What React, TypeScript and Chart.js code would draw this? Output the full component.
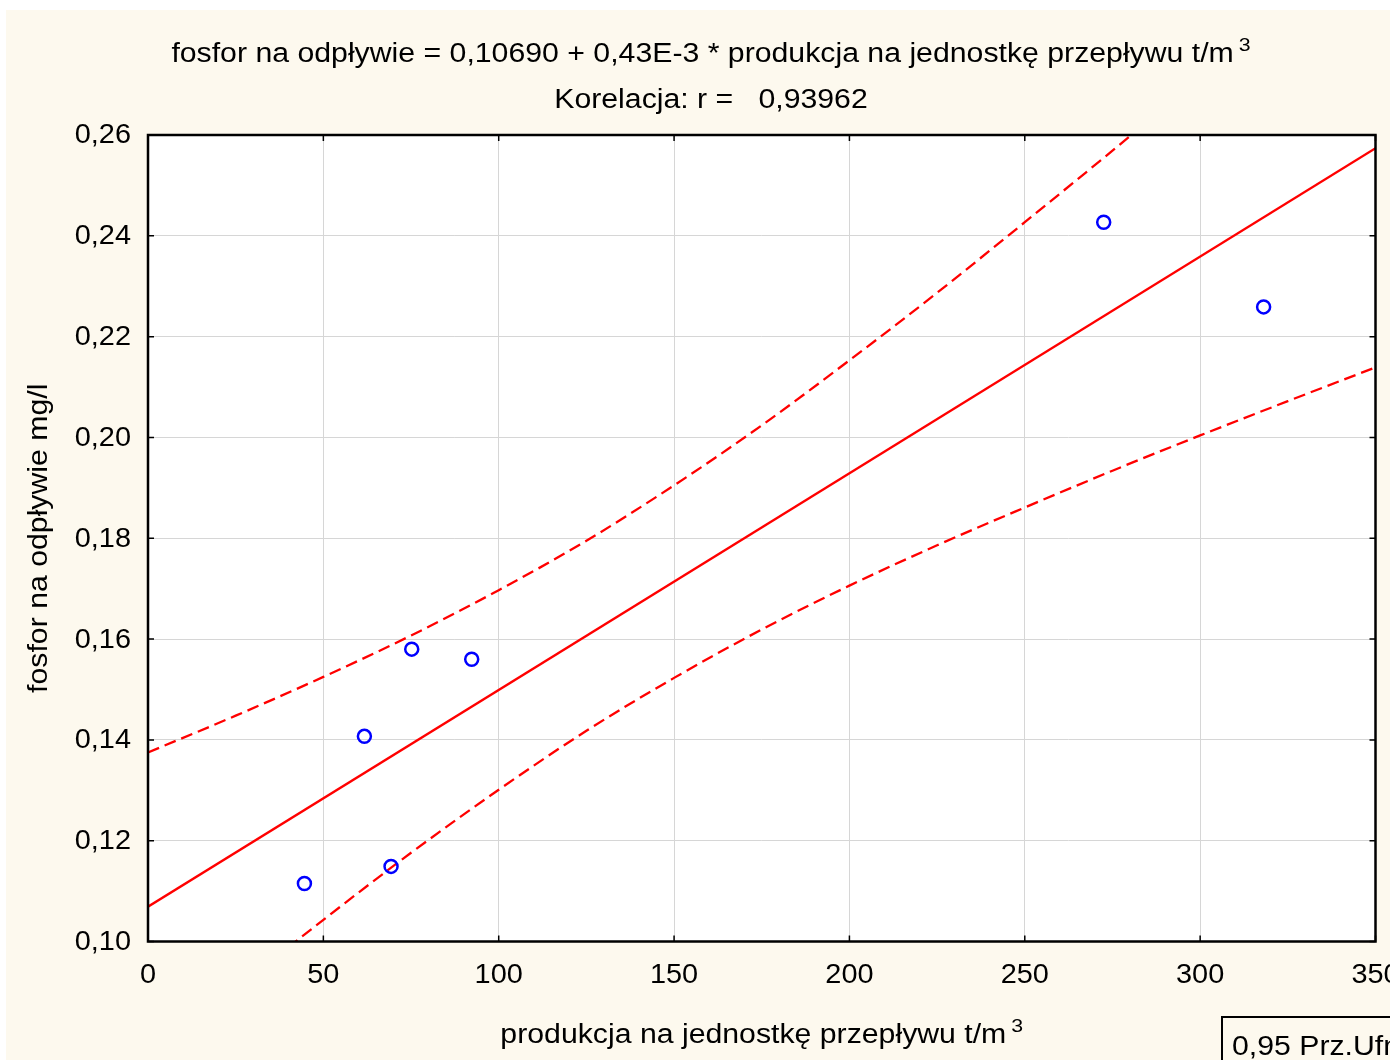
import React, { useEffect, useRef } from "react";
import { Chart, registerables } from "chart.js";

Chart.register(...registerables);

// ---- data ----
const pointX = [44.6, 61.7, 69.3, 75.2, 92.3, 272.5, 318.1];
const pointY = [0.1115, 0.1407, 0.1149, 0.158, 0.156, 0.2427, 0.2259];

const fitX = [0, 350];
const fitY = [0.1069, 0.2574];

const bandX = [0, 25, 50, 75, 100, 125, 150, 175, 200, 225, 250, 275, 300, 325, 350];
const upperBand = [0.1375, 0.1448, 0.1525, 0.1607, 0.1697, 0.1795, 0.1905, 0.2024, 0.2153, 0.2287, 0.2427, 0.2569, 0.2714, 0.2861, 0.3009];
const lowerBand = [0.0763, 0.0905, 0.1043, 0.1176, 0.1301, 0.1418, 0.1523, 0.1619, 0.1706, 0.1786, 0.1861, 0.1934, 0.2004, 0.2072, 0.2139];

const xTicks = [0, 50, 100, 150, 200, 250, 300, 350];
const yTicks = [0.1, 0.12, 0.14, 0.16, 0.18, 0.2, 0.22, 0.24, 0.26];
const xTickLabels = ["0", "50", "100", "150", "200", "250", "300", "350"];
const yTickLabels = ["0,10", "0,12", "0,14", "0,16", "0,18", "0,20", "0,22", "0,24", "0,26"];

const titleLine1 = "fosfor na odpływie = 0,10690 + 0,43E-3 * produkcja na jednostkę przepływu t/m";
const titleLine2 = "Korelacja: r =   0,93962";
const xTitle = "produkcja na jednostkę przepływu t/m";
const yTitle = "fosfor na odpływie mg/l";
const superscript = "3";
const legendText = "0,95 Prz.Ufn.";

// ---- layout / style ----
const CANVAS_W = 1410;
const CANVAS_H = 1060;
const PLOT_LEFT = 142;
const PLOT_RIGHT = 1369.5;
const PLOT_TOP = 125;
const PLOT_BOTTOM = 931.5;
const CREAM = "rgb(253,249,238)";
const FONT = '"Liberation Sans", Arial, sans-serif';

function drawText(
  ctx: CanvasRenderingContext2D,
  text: string,
  x: number,
  y: number,
  size: number,
  align: "left" | "center" | "right",
  sx: number,
  sup?: string
) {
  ctx.save();
  ctx.font = `${size}px ${FONT}`;
  const w = ctx.measureText(text).width * sx;
  let supW = 0;
  const supSize = Math.round(size * 0.72);
  if (sup) {
    ctx.font = `${supSize}px ${FONT}`;
    supW = ctx.measureText(sup).width * sx + 5;
  }
  const total = w + supW;
  const left = align === "center" ? x - total / 2 : align === "right" ? x - total : x;
  ctx.fillStyle = "#000";
  ctx.textBaseline = "middle";
  ctx.textAlign = "left";
  ctx.save();
  ctx.translate(left, y);
  ctx.scale(sx, 1);
  ctx.font = `${size}px ${FONT}`;
  ctx.fillText(text, 0, 0);
  ctx.restore();
  if (sup) {
    ctx.save();
    ctx.translate(left + w + 5, y - size * 0.36);
    ctx.scale(sx, 1);
    ctx.font = `${supSize}px ${FONT}`;
    ctx.fillText(sup, 0, 0);
    ctx.restore();
  }
  ctx.restore();
}

const decorPlugin = {
  id: "decor",
  beforeDraw(chart: any) {
    const { ctx, chartArea } = chart;
    ctx.save();
    ctx.fillStyle = CREAM;
    ctx.fillRect(0, 0, chart.width, chart.height);
    ctx.fillStyle = "#ffffff";
    ctx.fillRect(chartArea.left, chartArea.top, chartArea.right - chartArea.left, chartArea.bottom - chartArea.top);
    ctx.restore();
  },
  afterDraw(chart: any) {
    const { ctx, chartArea } = chart;
    const xs = chart.scales.x;
    const ys = chart.scales.y;
    const { left, right, top, bottom } = chartArea;

    ctx.save();
    // inward tick marks on all four sides
    ctx.strokeStyle = "#000";
    ctx.lineWidth = 1.5;
    const tl = 6;
    xTicks.forEach((v) => {
      const px = xs.getPixelForValue(v);
      ctx.beginPath();
      ctx.moveTo(px, bottom);
      ctx.lineTo(px, bottom - tl);
      ctx.moveTo(px, top);
      ctx.lineTo(px, top + tl);
      ctx.stroke();
    });
    yTicks.forEach((v) => {
      const py = ys.getPixelForValue(v);
      ctx.beginPath();
      ctx.moveTo(left, py);
      ctx.lineTo(left + tl, py);
      ctx.moveTo(right, py);
      ctx.lineTo(right - tl, py);
      ctx.stroke();
    });
    // frame
    ctx.lineWidth = 2.5;
    ctx.strokeRect(left, top, right - left, bottom - top);

    // tick labels
    xTicks.forEach((v, i) => {
      drawText(ctx, xTickLabels[i], xs.getPixelForValue(v), bottom + 34, 27, "center", 1.07);
    });
    yTicks.forEach((v, i) => {
      drawText(ctx, yTickLabels[i], left - 17, ys.getPixelForValue(v) + 1, 27, "right", 1.07);
    });

    // titles
    drawText(ctx, titleLine1, 705, 45, 27, "center", 1.12, superscript);
    drawText(ctx, titleLine2, 705, 91, 27, "center", 1.12);
    drawText(ctx, xTitle, (left + right) / 2, 1026, 27, "center", 1.12, superscript);

    ctx.save();
    ctx.translate(34, (top + bottom) / 2);
    ctx.rotate(-Math.PI / 2);
    drawText(ctx, yTitle, 0, 0, 27, "center", 1.12);
    ctx.restore();

    // legend box (partially outside the visible page)
    ctx.lineWidth = 2;
    ctx.strokeStyle = "#000";
    ctx.strokeRect(1216, 1007, 300, 120);
    drawText(ctx, legendText, 1226, 1038, 27, "left", 1.12);
    ctx.restore();
  },
};

export default function App() {
  const canvasRef = useRef<HTMLCanvasElement | null>(null);

  useEffect(() => {
    const canvas = canvasRef.current;
    if (!canvas) return;

    const points = pointX.map((x, i) => ({ x, y: pointY[i] }));
    const fit = fitX.map((x, i) => ({ x, y: fitY[i] }));
    const upper = bandX.map((x, i) => ({ x, y: upperBand[i] }));
    const lower = bandX.map((x, i) => ({ x, y: lowerBand[i] }));

    const chart = new Chart(canvas, {
      type: "scatter",
      data: {
        datasets: [
          {
            data: points,
            showLine: false,
            pointRadius: 6.5,
            pointHoverRadius: 6.5,
            pointBorderWidth: 2.5,
            borderColor: "#0000ff",
            backgroundColor: "rgba(0,0,0,0)",
            order: 0,
          },
          {
            data: fit,
            showLine: true,
            pointRadius: 0,
            borderColor: "#ff0000",
            borderWidth: 2.3,
            order: 1,
          },
          {
            data: upper,
            showLine: true,
            pointRadius: 0,
            borderColor: "#ff0000",
            borderWidth: 2.3,
            borderDash: [12, 6],
            cubicInterpolationMode: "monotone",
            order: 2,
          },
          {
            data: lower,
            showLine: true,
            pointRadius: 0,
            borderColor: "#ff0000",
            borderWidth: 2.3,
            borderDash: [12, 6],
            cubicInterpolationMode: "monotone",
            order: 2,
          },
        ],
      },
      options: {
        animation: false,
        responsive: false,
        maintainAspectRatio: false,
        devicePixelRatio: 1,
        layout: {
          padding: { left: 0, top: PLOT_TOP, right: CANVAS_W - PLOT_RIGHT, bottom: 0 },
        },
        plugins: {
          legend: { display: false },
          title: { display: false },
          tooltip: { enabled: false },
        },
        scales: {
          x: {
            type: "linear",
            min: 0,
            max: 350,
            afterBuildTicks: (scale: any) => {
              scale.ticks = xTicks.map((v) => ({ value: v }));
            },
            afterFit: (scale: any) => {
              scale.height = CANVAS_H - PLOT_BOTTOM;
            },
            ticks: { display: false },
            grid: { color: "#d6d6d6", lineWidth: 1, drawTicks: false },
            border: { display: false },
          },
          y: {
            type: "linear",
            min: 0.1,
            max: 0.26,
            afterBuildTicks: (scale: any) => {
              scale.ticks = yTicks.map((v) => ({ value: v }));
            },
            afterFit: (scale: any) => {
              scale.width = PLOT_LEFT;
            },
            ticks: { display: false },
            grid: { color: "#d6d6d6", lineWidth: 1, drawTicks: false },
            border: { display: false },
          },
        },
      },
      plugins: [decorPlugin],
    } as any);

    return () => chart.destroy();
  }, []);

  return (
    <div
      style={{
        position: "absolute",
        left: 6,
        top: 10,
        width: 1384,
        height: 1050,
        overflow: "hidden",
        background: CREAM,
      }}
    >
      <canvas ref={canvasRef} width={CANVAS_W} height={CANVAS_H} style={{ display: "block", width: CANVAS_W, height: CANVAS_H }} />
    </div>
  );
}
